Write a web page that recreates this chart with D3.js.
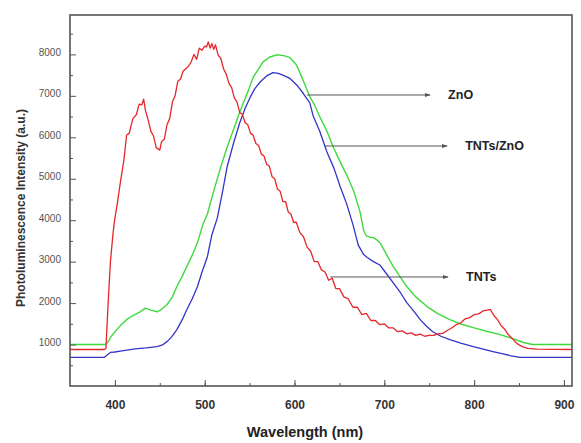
<!DOCTYPE html>
<html>
<head>
<meta charset="utf-8">
<script src="https://cdn.jsdelivr.net/npm/d3@7"></script>
<style>
  html, body { margin: 0; padding: 0; background: #fff; }
  svg { display: block; font-family: "Liberation Sans", Arial, sans-serif; }
</style>
</head>
<body>
<svg id="chart" width="581" height="443"></svg>
<script>
// ---- data ----
const xTickLabels = [400, 500, 600, 700, 800, 900];
const yTickLabels = [1000, 2000, 3000, 4000, 5000, 6000, 7000, 8000];

// TNTs (red)
const tntsWave = [350,388,390,392,395,398,400,403,406,410,413,416,420,424,427,430,432,434,437,440,443,446,448,450,452,455,458,461,464,467,470,473,476,479,482,485,488,491,494,497,500,502,504,506,508,510,512,515,518,521,524,527,530,533,536,539,542,545,548,551,554,557,560,563,566,569,572,575,578,581,584,587,590,593,596,599,602,606,610,614,618,622,626,630,634,638,642,646,650,655,660,665,670,675,680,685,690,695,700,705,710,715,720,725,730,735,740,745,750,755,760,765,770,775,780,785,790,795,800,805,810,815,818,822,826,830,834,838,842,846,850,855,860,870,909];
const tntsInt  = [880,880,900,1800,3000,3700,4050,4450,4900,5450,6050,6100,6450,6550,6800,6780,6920,6650,6420,6150,6030,5750,5720,5690,5900,5950,6300,6450,6850,7000,7350,7400,7600,7650,7720,7820,8000,7880,8150,8100,8200,8180,8300,8150,8260,8120,8230,7980,7900,7650,7520,7300,7200,6950,6850,6600,6550,6350,6300,6100,6050,5850,5800,5600,5550,5350,5300,5050,5000,4750,4700,4450,4450,4200,4150,3950,3950,3700,3600,3350,3250,3000,3000,2800,2750,2550,2600,2350,2350,2150,2100,1900,1900,1720,1750,1580,1580,1480,1500,1400,1400,1310,1330,1260,1280,1220,1250,1200,1220,1220,1260,1270,1340,1400,1480,1520,1620,1650,1720,1740,1810,1830,1850,1700,1600,1460,1370,1240,1160,1060,990,940,910,890,880];

// ZnO (green)
const znoWave = [350,389,392,396,402,408,413,420,428,434,440,447,452,458,464,469,475,480,486,492,498,503,510,517,524,532,538,543,549,554,560,565,572,580,588,595,602,606,612,617,623,628,636,643,651,659,666,673,677,680,684,688,692,696,703,710,718,725,735,748,760,773,786,799,814,829,842,855,865,909];
const znoInt  = [1000,1000,1050,1200,1360,1500,1600,1700,1790,1880,1830,1790,1850,1960,2150,2400,2650,2880,3150,3460,3900,4150,4700,5220,5700,6180,6550,6830,7150,7450,7650,7820,7930,7990,7970,7920,7750,7560,7250,6980,6750,6500,6150,5770,5400,5050,4700,4200,3750,3620,3590,3580,3520,3430,3150,2880,2620,2400,2150,1910,1740,1600,1490,1410,1320,1240,1150,1050,1000,1000];

// TNTs/ZnO (blue)
const compWave = [350,388,392,395,400,406,415,425,435,447,453,458,463,469,475,480,486,492,497,503,508,514,520,525,532,539,545,551,556,562,569,576,582,587,595,603,610,617,621,628,636,644,651,658,665,671,677,681,688,695,702,710,718,725,733,740,747,754,763,773,786,799,810,821,831,840,851,909];
const compInt  = [690,690,760,810,820,840,870,900,920,950,990,1070,1180,1360,1600,1840,2100,2400,2750,3120,3650,4050,4700,5290,5850,6350,6700,6980,7180,7340,7480,7560,7540,7500,7420,7250,7050,6830,6500,6150,5650,5250,4800,4400,3900,3400,3170,3100,3000,2920,2720,2490,2250,2010,1800,1600,1440,1310,1200,1120,1030,950,890,830,780,735,690,690];

const annWave  = [614, 634, 640];          // where the arrows start (nm)
const annInt   = [7020, 5790, 2630];       // arrow heights
const annLabel = ["ZnO", "TNTs/ZnO", "TNTs"];
const annEnd   = [751, 770, 771];          // arrow tips (nm)

// ---- layout ----
const svg = d3.select("#chart");
const L = 70, T = 15, R = 572, B = 386;

const x = d3.scaleLinear().domain([350, 909]).range([L, R]);
const y = d3.scaleLinear().domain([0, 8950]).range([B, T]);

const seriesDefs = [
  { wave: znoWave,  vals: znoInt,  color: "#3fd93f", w: 1.4 },
  { wave: compWave, vals: compInt, color: "#3434c8", w: 1.3 },
  { wave: tntsWave, vals: tntsInt, color: "#e8262a", w: 1.3 }
];

const line = d3.line().x(d => x(d[0])).y(d => y(d[1]));

svg.append("clipPath").attr("id", "plotclip")
  .append("rect").attr("x", L).attr("y", T).attr("width", R - L).attr("height", B - T);

const g = svg.append("g").attr("clip-path", "url(#plotclip)");
seriesDefs.forEach(s => {
  const pts = s.wave.map((w, i) => [w, s.vals[i]]);
  g.append("path").datum(pts)
    .attr("d", line)
    .attr("fill", "none")
    .attr("stroke", s.color)
    .attr("stroke-width", s.w)
    .attr("stroke-linejoin", "round");
});

// ---- axes (ticks inward) ----
const xMajor = d3.axisBottom(x).tickValues(xTickLabels).tickSize(-6).tickFormat(d3.format("d")).tickPadding(14);
const xMinor = d3.axisBottom(x).tickValues([400,450,500,550,600,650,700,750,800,850,900]).tickSize(-3).tickFormat("");
const gxm = svg.append("g").attr("transform", `translate(0,${B})`).call(xMinor);
const gx = svg.append("g").attr("transform", `translate(0,${B})`).call(xMajor);
[gx, gxm].forEach(a => { a.select(".domain").remove(); a.selectAll("line").attr("stroke", "#555"); });
gx.selectAll("text").attr("font-size", 12).attr("font-weight", "bold").attr("fill", "#333");

const yMajor = d3.axisLeft(y).tickValues(yTickLabels).tickSize(-6).tickFormat(d3.format("d")).tickPadding(9);
const yMinor = d3.axisLeft(y).tickValues([500,1500,2500,3500,4500,5500,6500,7500,8500]).tickSize(-3).tickFormat("");
const gym = svg.append("g").attr("transform", `translate(${L},0)`).call(yMinor);
const gy = svg.append("g").attr("transform", `translate(${L},0)`).call(yMajor);
[gy, gym].forEach(a => { a.select(".domain").remove(); a.selectAll("line").attr("stroke", "#555"); });
gy.selectAll("text").attr("font-size", 10).attr("fill", "#555").attr("dy", "0.1em");

// frame
svg.append("rect").attr("x", L).attr("y", T).attr("width", R - L).attr("height", B - T)
  .attr("fill", "none").attr("stroke", "#555").attr("stroke-width", 1.6);

// ---- annotations ----
svg.append("defs").append("marker")
  .attr("id", "arr").attr("viewBox", "0 0 10 10").attr("refX", 9).attr("refY", 5)
  .attr("markerWidth", 6).attr("markerHeight", 6).attr("orient", "auto")
  .append("path").attr("d", "M0,1.5 L10,5 L0,8.5 Z").attr("fill", "#555");

annLabel.forEach((lab, i) => {
  svg.append("line")
    .attr("x1", x(annWave[i])).attr("y1", y(annInt[i]))
    .attr("x2", x(annEnd[i])).attr("y2", y(annInt[i]))
    .attr("stroke", "#555").attr("stroke-width", 1)
    .attr("marker-end", "url(#arr)");
  svg.append("text")
    .attr("x", x(annEnd[i]) + 18).attr("y", y(annInt[i]))
    .attr("dy", "0.35em")
    .attr("font-size", 12.5).attr("font-weight", "bold").attr("fill", "#222")
    .text(lab);
});

// ---- axis titles ----
svg.append("text")
  .attr("x", (L + R) / 2 - 16).attr("y", 437)
  .attr("text-anchor", "middle")
  .attr("font-size", 14.5).attr("font-weight", "bold").attr("fill", "#222")
  .text("Wavelength (nm)");

svg.append("text")
  .attr("transform", `translate(21,${208}) rotate(-90)`)
  .attr("text-anchor", "middle").attr("dy", "0.35em")
  .attr("font-size", 12).attr("font-weight", "bold").attr("fill", "#333")
  .text("Photoluminescence Intensity (a.u.)");
</script>
</body>
</html>
